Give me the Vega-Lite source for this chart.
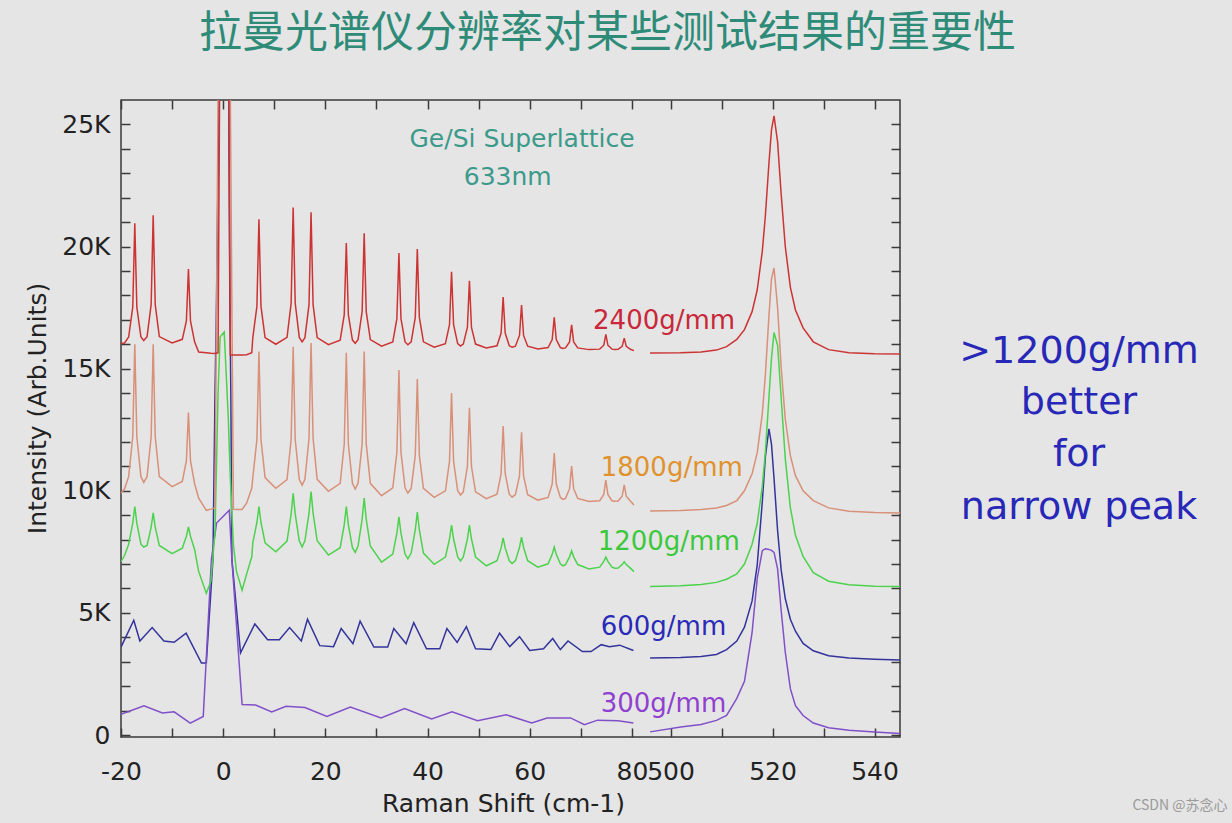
{
"$schema": "https://vega.github.io/schema/vega-lite/v6.json",
"width": 779, "height": 637,
"autosize": {"type": "none"},
"padding": {"left": 121, "top": 100, "right": 332, "bottom": 86},
"background": "#e5e5e5",
"title": {"text": "拉曼光谱仪分辨率对某些测试结果的重要性", "font": "Noto Sans CJK SC", "fontSize": 43, "fontWeight": "normal", "color": "#2e8b78", "anchor": "middle", "frame": "group", "dx": 97, "offset": 43},
"config": {"view": {"stroke": "#3a3a3a", "strokeWidth": 1.5}, "font": "DejaVu Sans"},
"datasets": {
"sharp": [
{"x":-20,"r":16030,"t":9900,"g":7100},
{"x":-19.3,"r":16050,"t":10080,"g":7350},
{"x":-18.5,"r":16295,"t":10578,"g":7814},
{"x":-17.7,"r":17520,"t":12210,"g":8678},
{"x":-17.3,"r":20950,"t":16000,"g":9350},
{"x":-16.9,"r":17520,"t":12210,"g":8678},
{"x":-16.1,"r":16295,"t":10578,"g":7814},
{"x":-15.55,"r":16150,"t":10345,"g":7700},
{"x":-14.9,"r":16312,"t":10578,"g":7764},
{"x":-14.1,"r":17619,"t":12210,"g":8516},
{"x":-13.7,"r":21280,"t":16000,"g":9100},
{"x":-13.3,"r":17619,"t":12210,"g":8516},
{"x":-12.5,"r":16312,"t":10578,"g":7764},
{"x":-10.0,"r":16050,"t":10170,"g":7430},
{"x":-8.0,"r":16202,"t":10382,"g":7648},
{"x":-7.2,"r":16959,"t":11230,"g":8139},
{"x":-6.8,"r":19080,"t":13200,"g":8520},
{"x":-6.4,"r":16959,"t":11230,"g":8139},
{"x":-5.6,"r":16100,"t":10300,"g":7600},
{"x":-4.8,"r":15680,"t":9700,"g":6700},
{"x":-3.3,"r":15650,"t":9200,"g":5800},
{"x":-2.4,"r":15630,"t":9250,"g":6300},
{"x":-1.6,"r":15620,"t":9300,"g":8300},
{"x":-1.0,"r":15650,"t":26200,"g":14000},
{"x":-0.6,"r":30000,"t":37500,"g":16300},
{"x":0.2,"r":60000,"t":60000,"g":16500},
{"x":1.0,"r":30000,"t":37500,"g":13000},
{"x":1.4,"r":15560,"t":26200,"g":10500},
{"x":2.0,"r":15560,"t":9250,"g":7800},
{"x":2.6,"r":15560,"t":9230,"g":6700},
{"x":3.7,"r":15560,"t":9230,"g":5930},
{"x":4.6,"r":15570,"t":9500,"g":6600},
{"x":5.6,"r":15650,"t":10100,"g":7300},
{"x":5.8,"r":16275,"t":10539,"g":7870},
{"x":6.6,"r":17550,"t":12093,"g":8703},
{"x":7.0,"r":21120,"t":15700,"g":9350},
{"x":7.4,"r":17550,"t":12093,"g":8703},
{"x":8.2,"r":16275,"t":10539,"g":7870},
{"x":10.3,"r":16000,"t":10100,"g":7500},
{"x":12.5,"r":16280,"t":10460,"g":7940},
{"x":13.3,"r":17680,"t":12098,"g":9043},
{"x":13.7,"r":21600,"t":15900,"g":9900},
{"x":14.1,"r":17680,"t":12098,"g":9043},
{"x":14.9,"r":16280,"t":10460,"g":7940},
{"x":15.45,"r":16100,"t":10230,"g":7700},
{"x":16.0,"r":16270,"t":10470,"g":7954},
{"x":16.8,"r":17620,"t":12150,"g":9088},
{"x":17.2,"r":21400,"t":16050,"g":9970},
{"x":17.6,"r":17620,"t":12150,"g":9088},
{"x":18.4,"r":16270,"t":10470,"g":7954},
{"x":20.6,"r":15980,"t":9980,"g":7370},
{"x":22.9,"r":16169,"t":10303,"g":7670},
{"x":23.7,"r":17214,"t":11913,"g":8615},
{"x":24.1,"r":20140,"t":15650,"g":9350},
{"x":24.5,"r":17214,"t":11913,"g":8615},
{"x":25.3,"r":16169,"t":10303,"g":7670},
{"x":25.85,"r":16040,"t":10070,"g":7480},
{"x":26.4,"r":16189,"t":10306,"g":7740},
{"x":27.2,"r":17334,"t":11930,"g":8843},
{"x":27.6,"r":20540,"t":15700,"g":9700},
{"x":28.0,"r":17334,"t":11930,"g":8843},
{"x":28.8,"r":16189,"t":10306,"g":7740},
{"x":31.0,"r":15920,"t":9800,"g":7080},
{"x":33.2,"r":16092,"t":10123,"g":7410},
{"x":34.0,"r":17049,"t":11577,"g":8265},
{"x":34.4,"r":19730,"t":14950,"g":8930},
{"x":34.8,"r":17049,"t":11577,"g":8265},
{"x":35.6,"r":16092,"t":10123,"g":7410},
{"x":36.15,"r":15980,"t":9910,"g":7220},
{"x":36.8,"r":16100,"t":10097,"g":7450},
{"x":37.6,"r":17100,"t":11447,"g":8395},
{"x":38.0,"r":19900,"t":14580,"g":9130},
{"x":38.4,"r":17100,"t":11447,"g":8395},
{"x":39.2,"r":16100,"t":10097,"g":7450},
{"x":41.3,"r":15880,"t":9730,"g":6990},
{"x":43.5,"r":16025,"t":10001,"g":7288},
{"x":44.3,"r":16800,"t":11205,"g":8026},
{"x":44.7,"r":18970,"t":14000,"g":8600},
{"x":45.1,"r":16800,"t":11205,"g":8026},
{"x":45.9,"r":16025,"t":10001,"g":7288},
{"x":46.45,"r":15930,"t":9830,"g":7130},
{"x":47.0,"r":16007,"t":9959,"g":7288},
{"x":47.8,"r":16689,"t":10995,"g":8026},
{"x":48.2,"r":18600,"t":13400,"g":8600},
{"x":48.6,"r":16689,"t":10995,"g":8026},
{"x":49.4,"r":16007,"t":9959,"g":7288},
{"x":51.5,"r":15850,"t":9680,"g":6930},
{"x":53.6,"r":15935,"t":9860,"g":7134},
{"x":54.4,"r":16460,"t":10700,"g":7661},
{"x":54.8,"r":17930,"t":12650,"g":8070},
{"x":55.2,"r":16460,"t":10700,"g":7661},
{"x":56.0,"r":15935,"t":9860,"g":7134},
{"x":56.55,"r":15880,"t":9740,"g":7020},
{"x":57.2,"r":15919,"t":9843,"g":7140},
{"x":58.0,"r":16361,"t":10613,"g":7680},
{"x":58.4,"r":17600,"t":12400,"g":8100},
{"x":58.8,"r":16361,"t":10613,"g":7680},
{"x":59.6,"r":15919,"t":9843,"g":7140},
{"x":61.6,"r":15810,"t":9620,"g":6870},
{"x":63.6,"r":15865,"t":9727,"g":7012},
{"x":64.4,"r":16190,"t":10276,"g":7399},
{"x":64.8,"r":17100,"t":11550,"g":7700},
{"x":65.2,"r":16190,"t":10276,"g":7399},
{"x":66.0,"r":15865,"t":9727,"g":7012},
{"x":66.5,"r":15830,"t":9650,"g":6930},
{"x":67.0,"r":15850,"t":9689,"g":6980},
{"x":67.8,"r":16097,"t":10087,"g":7295},
{"x":68.2,"r":16790,"t":11010,"g":7540},
{"x":68.6,"r":16097,"t":10087,"g":7295},
{"x":69.4,"r":15850,"t":9689,"g":6980},
{"x":71.6,"r":15780,"t":9560,"g":6800},
{"x":73.7,"r":15800,"t":9594,"g":6874},
{"x":74.5,"r":15960,"t":9850,"g":7108},
{"x":74.9,"r":16400,"t":10440,"g":7290},
{"x":75.3,"r":15960,"t":9850,"g":7108},
{"x":76.1,"r":15800,"t":9594,"g":6874},
{"x":76.65,"r":15790,"t":9570,"g":6830},
{"x":77.3,"r":15794,"t":9580,"g":6834},
{"x":78.1,"r":15914,"t":9778,"g":6978},
{"x":78.5,"r":16250,"t":10240,"g":7090},
{"x":78.9,"r":15914,"t":9778,"g":6978},
{"x":79.7,"r":15794,"t":9580,"g":6834},
{"x":80.4,"r":15740,"t":9420,"g":6690}
],
"broad": [
{"s":"b","x":-20,"y":3600},{"s":"b","x":-17.5,"y":4700},{"s":"b","x":-16.3,"y":3850},{"s":"b","x":-13.9,"y":4400},
{"s":"b","x":-11.6,"y":3850},{"s":"b","x":-9.6,"y":3800},{"s":"b","x":-7.25,"y":4170},{"s":"b","x":-4.25,"y":2950},
{"s":"b","x":-3.3,"y":2950},{"s":"b","x":-2.0,"y":7200},{"s":"b","x":-1.6,"y":14000},{"s":"b","x":-1.3,"y":17800},
{"s":"b","x":-0.6,"y":30000},{"s":"b","x":0.2,"y":60000},{"s":"b","x":1.0,"y":30000},
{"s":"b","x":1.3,"y":17800},{"s":"b","x":1.5,"y":14000},{"s":"b","x":1.7,"y":7200},{"s":"b","x":3.4,"y":3370},
{"s":"b","x":6.2,"y":4550},{"s":"b","x":8.7,"y":3900},{"s":"b","x":11.0,"y":3900},{"s":"b","x":13.0,"y":4400},
{"s":"b","x":15.3,"y":3850},{"s":"b","x":16.5,"y":4740},{"s":"b","x":18.9,"y":3660},{"s":"b","x":21.6,"y":3620},
{"s":"b","x":23.1,"y":4360},{"s":"b","x":25.4,"y":3740},{"s":"b","x":26.8,"y":4660},{"s":"b","x":29.5,"y":3600},
{"s":"b","x":32.2,"y":3600},{"s":"b","x":33.4,"y":4360},{"s":"b","x":35.8,"y":3740},{"s":"b","x":37.3,"y":4600},
{"s":"b","x":39.8,"y":3530},{"s":"b","x":42.4,"y":3530},{"s":"b","x":43.8,"y":4360},{"s":"b","x":45.8,"y":3790},
{"s":"b","x":47.6,"y":4440},{"s":"b","x":49.4,"y":3530},{"s":"b","x":52.4,"y":3500},{"s":"b","x":54.1,"y":4170},
{"s":"b","x":56.1,"y":3620},{"s":"b","x":58.0,"y":4030},{"s":"b","x":60.0,"y":3460},{"s":"b","x":62.7,"y":3530},
{"s":"b","x":64.5,"y":3950},{"s":"b","x":66.0,"y":3500},{"s":"b","x":67.5,"y":3850},{"s":"b","x":70.3,"y":3420},
{"s":"b","x":72.0,"y":3420},{"s":"b","x":74.0,"y":3700},{"s":"b","x":75.6,"y":3620},{"s":"b","x":77.6,"y":3680},
{"s":"b","x":80.3,"y":3460},
{"s":"v","x":-20,"y":850},{"s":"v","x":-15.5,"y":1200},{"s":"v","x":-11.9,"y":900},{"s":"v","x":-9.6,"y":950},
{"s":"v","x":-6.45,"y":490},{"s":"v","x":-3.9,"y":760},{"s":"v","x":-2.3,"y":7200},{"s":"v","x":-1.3,"y":8680},
{"s":"v","x":1.2,"y":9200},{"s":"v","x":1.7,"y":7200},{"s":"v","x":3.7,"y":1250},{"s":"v","x":6.35,"y":1230},
{"s":"v","x":9.5,"y":950},{"s":"v","x":12.3,"y":1180},{"s":"v","x":16.0,"y":1130},{"s":"v","x":20.3,"y":760},
{"s":"v","x":24.9,"y":1150},{"s":"v","x":30.9,"y":700},{"s":"v","x":35.5,"y":1080},{"s":"v","x":40.8,"y":660},
{"s":"v","x":44.8,"y":950},{"s":"v","x":49.8,"y":590},{"s":"v","x":55.4,"y":830},{"s":"v","x":60.4,"y":490},
{"s":"v","x":63.4,"y":700},{"s":"v","x":68.0,"y":700},{"s":"v","x":70.7,"y":420},{"s":"v","x":73.3,"y":610},
{"s":"v","x":77.3,"y":590},{"s":"v","x":80.3,"y":490}
],
"si": [
{"x":496,"r":15640,"t":9170,"g":6080,"b":3150,"v":130},
{"x":502,"r":15650,"t":9190,"g":6110,"b":3170,"v":330},
{"x":506,"r":15680,"t":9230,"g":6160,"b":3220,"v":430},
{"x":509,"r":15760,"t":9300,"g":6250,"b":3300,"v":600},
{"x":511,"r":15900,"t":9400,"g":6380,"b":3500,"v":800},
{"x":513,"r":16200,"t":9600,"g":6600,"b":3850,"v":1500},
{"x":514.5,"r":16600,"t":10000,"g":7000,"b":4420,"v":2200},
{"x":516,"r":17335,"t":10700,"g":7810,"b":5490,"v":4200},
{"x":517,"r":18221,"t":11550,"g":8670,"b":6960,"v":6400},
{"x":518,"r":19803,"t":13150,"g":10180,"b":9550,"v":7550},
{"x":518.6,"r":21261,"t":14740,"g":11600,"b":11400,"v":7630},
{"x":519.3,"r":23400,"t":17150,"g":13800,"b":12540,"v":7600},
{"x":519.8,"r":24776,"t":18680,"g":15430,"b":11910,"v":7560},
{"x":520.3,"r":25350,"t":19120,"g":16480,"b":10510,"v":7480},
{"x":521,"r":24286,"t":17500,"g":15960,"b":8370,"v":6800},
{"x":521.7,"r":22144,"t":15050,"g":13800,"b":6760,"v":5100},
{"x":522.5,"r":20012,"t":12950,"g":11330,"b":5590,"v":3400},
{"x":523.5,"r":18339,"t":11440,"g":9310,"b":4740,"v":1900},
{"x":524.5,"r":17402,"t":10620,"g":8180,"b":4250,"v":1200},
{"x":526,"r":16669,"t":10000,"g":7310,"b":3750,"v":800},
{"x":528,"r":16100,"t":9600,"g":6650,"b":3450,"v":490},
{"x":531,"r":15780,"t":9300,"g":6300,"b":3250,"v":300},
{"x":535,"r":15650,"t":9160,"g":6150,"b":3150,"v":200},
{"x":540,"r":15610,"t":9110,"g":6090,"b":3100,"v":120},
{"x":545,"r":15600,"t":9090,"g":6080,"b":3070,"v":60}
],
"labels": [
{"t":"2400g/mm","k":"r","x":72.4,"y":16950},
{"t":"1800g/mm","k":"t","x":73.9,"y":10930},
{"t":"1200g/mm","k":"g","x":73.3,"y":7900},
{"t":"600g/mm","k":"b","x":73.9,"y":4425},
{"t":"300g/mm","k":"v","x":73.9,"y":1270}
],
"note": [
{"t":"Ge/Si Superlattice","x":58.5,"y":24414},
{"t":"633nm","x":55.7,"y":22860}
],
"side": [
{"t":">1200g/mm","x":580.1,"y":15683},
{"t":"better","x":580.1,"y":13595},
{"t":"for","x":580.1,"y":11466},
{"t":"narrow peak","x":580.1,"y":9297}
],
"mark": [
{"t":"CSDN @苏念心","x":599.9,"y":-2904}
]
},
"layer": [
{
"data": {"name": "broad"},
"mark": {"type": "line", "clip": true, "strokeWidth": 1.5},
"encoding": {
"x": {"field": "x", "type": "quantitative", "scale": {"type": "linear", "domain": [-20, 81, 495, 545], "range": [0, 516, 524, 779], "nice": false, "zero": false},
"axis": {"orient": "top", "values": [-20,-10,0,10,20,30,40,50,60,70,80,500,510,520,530,540], "labels": false, "tickSize": -9, "tickColor": "#3a3a3a", "tickWidth": 1.5, "domain": false, "grid": false, "title": null}},
"y": {"field": "y", "type": "quantitative", "scale": {"domain": [-80, 26000], "nice": false, "zero": false},
"axis": {"orient": "right", "values": [0,1000,2000,3000,4000,5000,6000,7000,8000,9000,10000,11000,12000,13000,14000,15000,16000,17000,18000,19000,20000,21000,22000,23000,24000,25000], "labels": false, "tickSize": -9, "tickColor": "#3a3a3a", "tickWidth": 1.5, "domain": false, "grid": false, "title": null}},
"color": {"field": "s", "type": "nominal", "scale": {"domain": ["r","t","g","b","v"], "range": ["#cc3333","#d89078","#4cd24c","#33339c","#8050c8"]}, "legend": null}
}
},
{
"data": {"name": "sharp"},
"transform": [{"fold": ["g","t","r"], "as": ["s","y"]}],
"mark": {"type": "line", "clip": true, "strokeWidth": 1.5},
"encoding": {
"x": {"field": "x", "type": "quantitative", "scale": {"type": "linear", "domain": [-20, 81, 495, 545], "range": [0, 516, 524, 779], "nice": false, "zero": false},
"axis": {"orient": "bottom", "values": [-20,-10,0,10,20,30,40,50,60,70,80,500,510,520,530,540], "labelExpr": "datum.value % 20 === 0 ? '' + datum.value : ''", "labelFont": "DejaVu Sans", "labelFontSize": 25, "labelColor": "#222222", "labelPadding": 31, "labelFlush": false, "labelOverlap": false, "tickSize": -9, "tickColor": "#3a3a3a", "tickWidth": 1.5, "domain": false, "grid": false,
"title": "Raman Shift (cm-1)", "titleFont": "DejaVu Sans", "titleFontSize": 25, "titleFontWeight": "normal", "titleColor": "#222222", "titleX": 382, "titleY": 66, "titleBaseline": "middle", "titleAlign": "center"}},
"y": {"field": "y", "type": "quantitative", "scale": {"domain": [-80, 26000], "nice": false, "zero": false},
"axis": {"orient": "left", "values": [0,1000,2000,3000,4000,5000,6000,7000,8000,9000,10000,11000,12000,13000,14000,15000,16000,17000,18000,19000,20000,21000,22000,23000,24000,25000], "labelExpr": "datum.value === 0 ? '0' : (datum.value % 5000 === 0 ? (datum.value / 1000) + 'K' : '')", "labelFont": "DejaVu Sans", "labelFontSize": 25, "labelColor": "#222222", "labelPadding": 20, "tickSize": -9, "tickColor": "#3a3a3a", "tickWidth": 1.5, "domain": false, "grid": false,
"title": "Intensity (Arb.Units)", "titleFont": "DejaVu Sans", "titleFontSize": 25, "titleFontWeight": "normal", "titleColor": "#222222", "titleX": -84, "titleY": 308, "titleAngle": -90, "titleBaseline": "middle", "titleAlign": "center"}},
"color": {"field": "s", "type": "nominal", "scale": {"domain": ["r","t","g","b","v"], "range": ["#cc3333","#d89078","#4cd24c","#33339c","#8050c8"]}, "legend": null}
}
},
{
"data": {"name": "si"},
"transform": [{"fold": ["v","b","g","t","r"], "as": ["s","y"]}],
"mark": {"type": "line", "clip": true, "strokeWidth": 1.5},
"encoding": {
"x": {"field": "x", "type": "quantitative", "scale": {"type": "linear", "domain": [-20, 81, 495, 545], "range": [0, 516, 524, 779], "nice": false, "zero": false}, "axis": null},
"y": {"field": "y", "type": "quantitative", "scale": {"domain": [-80, 26000], "nice": false, "zero": false}, "axis": null},
"color": {"field": "s", "type": "nominal", "scale": {"domain": ["r","t","g","b","v"], "range": ["#cc3333","#d89078","#4cd24c","#33339c","#8050c8"]}, "legend": null}
}
},
{
"mark": {"type": "rect", "color": "#e5e5e5"},
"encoding": {
"x": {"datum": 81, "type": "quantitative", "axis": null}, "x2": {"datum": 495},
"y": {"datum": -400, "type": "quantitative", "axis": null}, "y2": {"datum": 26400}
}
},
{"mark": {"type": "rule", "color": "#3a3a3a", "strokeWidth": 1.5},
"encoding": {"x": {"datum": 79, "type": "quantitative", "axis": null}, "x2": {"datum": 81}, "y": {"datum": -490, "type": "quantitative", "axis": null}, "y2": {"datum": 330}}},
{"mark": {"type": "rule", "color": "#3a3a3a", "strokeWidth": 1.5},
"encoding": {"x": {"datum": 495, "type": "quantitative", "axis": null}, "x2": {"datum": 497}, "y": {"datum": -490, "type": "quantitative", "axis": null}, "y2": {"datum": 330}}},
{"mark": {"type": "rule", "color": "#3a3a3a", "strokeWidth": 1.5},
"encoding": {"x": {"datum": 79, "type": "quantitative", "axis": null}, "x2": {"datum": 81}, "y": {"datum": 25590, "type": "quantitative", "axis": null}, "y2": {"datum": 26410}}},
{"mark": {"type": "rule", "color": "#3a3a3a", "strokeWidth": 1.5},
"encoding": {"x": {"datum": 495, "type": "quantitative", "axis": null}, "x2": {"datum": 497}, "y": {"datum": 25590, "type": "quantitative", "axis": null}, "y2": {"datum": 26410}}},
{
"data": {"name": "labels"},
"mark": {"type": "text", "align": "left", "baseline": "middle", "font": "DejaVu Sans", "fontSize": 26},
"encoding": {
"x": {"field": "x", "type": "quantitative", "axis": null},
"y": {"field": "y", "type": "quantitative", "axis": null},
"text": {"field": "t"},
"fill": {"field": "k", "type": "nominal", "scale": {"domain": ["r","t","g","b","v"], "range": ["#c8283a","#e0922e","#3cc83c","#2a2ab8","#9040d0"]}, "legend": null}
}
},
{
"data": {"name": "note"},
"mark": {"type": "text", "align": "center", "baseline": "middle", "font": "DejaVu Sans", "fontSize": 25, "color": "#3c9a8a"},
"encoding": {
"x": {"field": "x", "type": "quantitative", "axis": null},
"y": {"field": "y", "type": "quantitative", "axis": null},
"text": {"field": "t"}
}
},
{
"data": {"name": "side"},
"mark": {"type": "text", "align": "center", "baseline": "middle", "font": "DejaVu Sans", "fontSize": 38, "color": "#2828b8"},
"encoding": {
"x": {"field": "x", "type": "quantitative", "axis": null},
"y": {"field": "y", "type": "quantitative", "axis": null},
"text": {"field": "t"}
}
},
{
"data": {"name": "mark"},
"mark": {"type": "text", "align": "center", "baseline": "middle", "font": "Noto Sans CJK SC", "fontSize": 14, "color": "#9a9a9a"},
"encoding": {
"x": {"field": "x", "type": "quantitative", "axis": null},
"y": {"field": "y", "type": "quantitative", "axis": null},
"text": {"field": "t"}
}
}
]
}
